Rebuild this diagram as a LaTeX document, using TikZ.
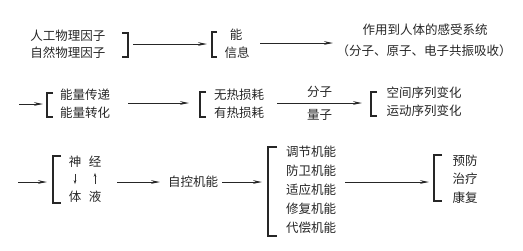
\documentclass[tikz,border=0pt]{standalone}
\usepackage{fontspec}
\setmainfont{Noto Sans CJK SC}
\usetikzlibrary{arrows.meta}
\tikzset{
	chu/.style={inner sep=0pt, text=black!85},
	kuohao/.style={line width=1.1pt, draw=black!85},
	jiantou/.style={-{Stealth[length=9pt,width=3.6pt]}, line width=0.9pt, draw=black!85},
	xiaojt/.style={-{Stealth[length=4pt,width=2.6pt]}, line width=0.6pt, draw=black!80}
}
\begin{document}
\begin{tikzpicture}[x=1pt, y=-1pt, line join=miter, font=\fontsize{12.5}{15}\selectfont]
	\useasboundingbox (0,0) rectangle (523,250);
	% Các điểm đầu, cuối của mũi tên
	\path (133,44) coordinate (a1) (207,44) coordinate (b1)
	(260,43) coordinate (a2) (333,43) coordinate (b2)
	(19,104) coordinate (a3) (43,104) coordinate (b3)
	(128,103) coordinate (a4) (189,103) coordinate (b4)
	(277,103) coordinate (a5) (362,103) coordinate (b5)
	(18,182) coordinate (a6) (47,182) coordinate (b6)
	(117,182) coordinate (a7) (160,182) coordinate (b7)
	(222,182) coordinate (a8) (262,182) coordinate (b8)
	(345,182) coordinate (a9) (429,182) coordinate (b9);
	% ==================== HÀNG 1 ====================
	\node[chu] (rengong) at (68,36) {人工物理因子};
	\node[chu] (ziran) at (68,53) {自然物理因子};
	\draw[kuohao] (122,33) -- (128,33) -- (128,57) -- (122,57);
	\draw[jiantou] (a1) -- (b1);
	\draw[kuohao] (217,32) -- (212,32) -- (212,57) -- (217,57);
	\node[chu] (neng) at (236,35) {能};
	\node[chu] (xinxi) at (237,53) {信息};
	\draw[jiantou] (a2) -- (b2);
	\node[chu] (ganshou) at (425,30) {作用到人体的感受系统};
	\node[chu] (gongzhen) at (424,51) {（分子、原子、电子共振吸收）};
	% ==================== HÀNG 2 ====================
	\draw[jiantou] (a3) -- (b3);
	\draw[kuohao] (53,93) -- (47,93) -- (47,117) -- (53,117);
	\node[chu] (chuandi) at (85,95) {能量传递};
	\node[chu] (zhuanhua) at (85,113) {能量转化};
	\draw[jiantou] (a4) -- (b4);
	\draw[kuohao] (206,92) -- (200,92) -- (200,117) -- (206,117);
	\node[chu] (wure) at (239,95) {无热损耗};
	\node[chu] (youre) at (239,113) {有热损耗};
	\draw[jiantou] (a5) -- node[chu, above=5pt] (fenzi) {分子}
	node[chu, below=6pt] (liangzi) {量子} (b5);
	\draw[kuohao] (377,92) -- (371,92) -- (371,116) -- (377,116);
	\node[chu] (kongjian) at (424,93) {空间序列变化};
	\node[chu] (yundong) at (424,111) {运动序列变化};
	% ==================== HÀNG 3 ====================
	\draw[jiantou] (a6) -- (b6);
	\draw[kuohao] (61,156) -- (53,156) -- (53,203) -- (61,203);
	\node[chu] (shen) at (75,162) {神};
	\node[chu] (jing) at (95,162) {经};
	\node[chu] (ti) at (75,197) {体};
	\node[chu] (ye) at (95,197) {液};
	\draw[xiaojt, shorten <=6pt, shorten >=7pt] (shen) -- (ti);
	\draw[xiaojt, shorten <=7pt, shorten >=5pt] (ye) -- (jing);
	\draw[jiantou] (a7) -- (b7);
	\node[chu] (zikong) at (193,182) {自控机能};
	\draw[jiantou] (a8) -- (b8);
	\draw[kuohao] (277,147) -- (268,147) -- (268,236) -- (277,236);
	\foreach \t [count=\i] in {调节机能, 防卫机能, 适应机能, 修复机能, 代偿机能}
	\node[chu] (jineng\i) at (311,{133+19*\i}) {\t};
	\draw[jiantou] (a9) -- (b9);
	\draw[kuohao] (442,155) -- (434,155) -- (434,201) -- (442,201);
	\node[chu] (yufang) at (465,161) {预防};
	\node[chu] (zhiliao) at (465,179) {治疗};
	\node[chu] (kangfu) at (465,198) {康复};
\end{tikzpicture}
\end{document}
